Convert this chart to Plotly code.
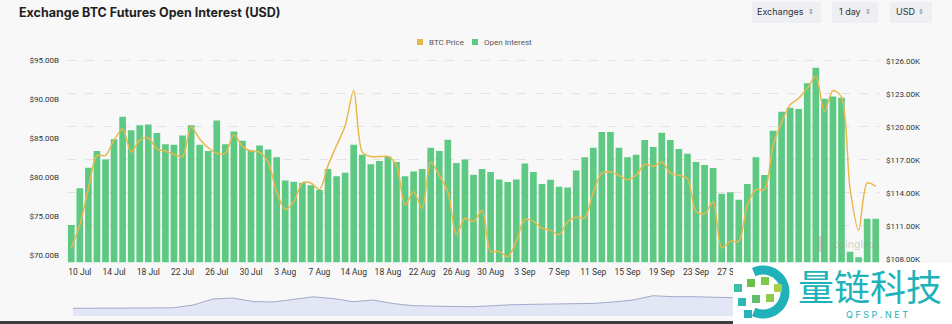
import numpy as np
import plotly.graph_objects as go

# ---------------- data ----------------
dates = (
    ["9 Jul", "10 Jul", "11 Jul", "12 Jul", "13 Jul", "14 Jul", "15 Jul", "16 Jul", "17 Jul", "18 Jul",
     "19 Jul", "20 Jul", "21 Jul", "22 Jul", "23 Jul", "24 Jul", "25 Jul", "26 Jul", "27 Jul", "28 Jul",
     "29 Jul", "30 Jul", "31 Jul", "1 Aug", "2 Aug", "3 Aug", "4 Aug", "5 Aug", "6 Aug", "7 Aug",
     "9 Aug", "11 Aug", "13 Aug",
     "14 Aug", "15 Aug", "16 Aug", "17 Aug", "18 Aug", "19 Aug", "20 Aug", "21 Aug", "22 Aug", "23 Aug",
     "24 Aug", "25 Aug", "26 Aug", "27 Aug", "28 Aug", "29 Aug", "30 Aug", "31 Aug", "1 Sep", "2 Sep",
     "3 Sep", "4 Sep", "5 Sep", "6 Sep", "7 Sep", "8 Sep", "9 Sep", "10 Sep", "11 Sep", "12 Sep",
     "13 Sep", "14 Sep", "15 Sep", "16 Sep", "17 Sep", "18 Sep", "19 Sep", "20 Sep", "21 Sep", "22 Sep",
     "23 Sep", "24 Sep", "25 Sep", "26 Sep", "27 Sep", "28 Sep", "29 Sep", "30 Sep", "1 Oct", "2 Oct",
     "3 Oct", "4 Oct", "5 Oct", "6 Oct", "7 Oct", "8 Oct", "9 Oct", "10 Oct", "11 Oct", "12 Oct",
     "13 Oct", "14 Oct"]
)

open_interest_b = [
    73.9, 78.6, 81.25, 83.4, 82.3, 84.9, 87.8, 86.05, 86.7, 86.8,
    85.7, 84.25, 84.2, 85.4, 86.7, 84.2, 83.4, 87.3, 84.25, 85.9,
    84.7, 83.5, 84.1, 83.6, 82.6, 79.6, 79.45, 79.3, 79.0, 78.4,
    81.1, 80.15, 80.6,
    84.2, 82.9, 81.7, 82.1, 82.7, 82.0, 80.15, 80.75, 81.1, 83.8,
    83.4, 84.85, 81.85, 82.3, 80.35, 81.1, 80.7, 79.75, 79.4, 79.75,
    81.8, 80.7, 79.15, 79.7, 78.8, 78.7, 80.9, 82.6, 83.8, 85.85,
    85.85, 83.8, 82.6, 82.9, 84.8, 83.9, 85.75, 84.8, 83.65, 83.05,
    82.0, 81.6, 81.2, 77.9, 78.1, 77.15, 79.15, 82.6, 80.3, 86.0,
    88.45, 88.95, 88.8, 92.1, 94.1, 90.1, 90.4, 90.25, 70.45, 69.75,
    74.7, 74.7,
]

btc_price_k = [
    109.0, 111.1, 114.4, 117.4, 117.4, 118.8, 119.8, 117.7, 118.8, 119.0,
    118.0, 117.8, 117.5, 117.3, 120.0, 118.9, 118.1, 117.6, 117.6, 119.3,
    118.2, 117.8, 117.7, 116.8, 114.1, 112.5, 113.2, 114.9, 114.9, 114.3,
    116.5, 118.3, 120.1,
    123.3, 117.7, 117.3, 117.3, 117.3, 116.5, 112.9, 114.1, 112.6, 116.8,
    115.6, 114.1, 110.2, 111.7, 111.4, 112.4, 108.7, 108.7, 108.2, 109.6,
    111.6, 111.4, 110.8, 110.6, 110.2, 111.4, 111.8, 111.7, 114.1, 115.8,
    115.9, 115.6, 115.2, 115.6, 116.6, 116.4, 116.8, 115.8, 115.6, 115.3,
    112.3, 112.1, 113.2, 109.0, 109.6, 109.6, 112.9, 114.3, 114.3, 118.3,
    120.4, 122.0, 122.6, 123.5, 124.6, 121.4, 123.3, 122.7, 114.4, 110.6,
    114.9, 114.6,
]

# visible date ticks (later ones sit under the logo overlay in the reference)
tick_dates = ["10 Jul", "14 Jul", "18 Jul", "22 Jul", "26 Jul", "30 Jul", "3 Aug", "7 Aug",
              "14 Aug", "18 Aug", "22 Aug", "26 Aug", "30 Aug", "3 Sep", "7 Sep", "11 Sep",
              "15 Sep", "19 Sep", "23 Sep", "27 Sep"]

oi_ticks = [70, 75, 80, 85, 90, 95]
oi_tick_text = ["$70.00B", "$75.00B", "$80.00B", "$85.00B", "$90.00B", "$95.00B"]
price_ticks = [108, 111, 114, 117, 120, 123, 126]
price_tick_text = ["$108.00K", "$111.00K", "$114.00K", "$117.00K", "$120.00K", "$123.00K", "$126.00K"]

# navigator (long-range overview) values
nav_values = [7.7, 7.8, 7.9, 8.0, 8.0, 8.2, 11.0, 17.0, 18.0, 14.5,
              14.0, 16.3, 19.2, 17.5, 14.3, 16.0, 12.5, 10.3, 9.7, 9.5,
              9.3, 10.5, 11.3, 11.7, 12.0, 12.3, 12.6, 14.0, 16.0, 20.3,
              19.3, 19.3, 19.0, 18.3, 19.0, 20.0, 21.0, 22.0, 20.0, 18.0, 19.0]

# ---------------- layout helpers ----------------
W, H = 952, 324
ML, MR, MT, MB = 67, 72, 55, 8
PW = W - ML - MR
PH = H - MT - MB


def px(x):
    return (x - ML) / PW


def py(y):
    return (H - MB - y) / PH


BG = "#f8f8f9"
GREEN = "#5dc983"
ORANGE = "#e9b84c"
TEAL = "#20b2b8"
FONT = "Roboto"

fig = go.Figure()

fig.add_trace(go.Bar(
    x=dates, y=open_interest_b, name="Open Interest",
    marker=dict(color=GREEN, line=dict(width=0)),
    yaxis="y", xaxis="x", showlegend=False,
))
fig.add_trace(go.Scatter(
    x=dates, y=btc_price_k, name="BTC Price", mode="lines",
    line=dict(color=ORANGE, width=1.5, shape="spline", smoothing=0.8),
    yaxis="y2", xaxis="x", showlegend=False,
))
fig.add_trace(go.Scatter(
    x=list(range(len(nav_values))), y=nav_values, mode="lines",
    line=dict(color="#9aa3c6", width=0.9), fill="tozeroy", fillcolor="#e2e6f5",
    xaxis="x2", yaxis="y3", showlegend=False, hoverinfo="skip",
))

main_bottom = py(262.3)

fig.update_layout(
    width=W, height=H,
    margin=dict(l=ML, r=MR, t=MT, b=MB, pad=0),
    paper_bgcolor=BG, plot_bgcolor=BG,
    bargap=0.22,
    font=dict(family=FONT, size=8.5, color="#333"),
    xaxis=dict(type="category", domain=[0, 1], anchor="y",
               range=[-0.5, len(dates) - 0.5],
               tickmode="array", tickvals=tick_dates, ticktext=tick_dates,
               tickangle=0, showgrid=False, showline=False, zeroline=False,
               ticks="", ticklabelstandoff=3,
               tickfont=dict(family=FONT, size=8.5, color="#333")),
    yaxis=dict(domain=[main_bottom, 1], range=[69.1, 95.73],
               tickmode="array", tickvals=oi_ticks, ticktext=oi_tick_text,
               showgrid=False, zeroline=False, showline=False, ticks="",
               ticklabelstandoff=7,
               tickfont=dict(family=FONT, size=8, color="#333")),
    yaxis2=dict(overlaying="y", side="right", range=[107.70, 126.52],
                tickmode="array", tickvals=price_ticks, ticktext=price_tick_text,
                showgrid=True, gridcolor="#e2e2e2", griddash="dash", gridwidth=0.8,
                zeroline=False, showline=False, ticks="", ticklabelstandoff=5,
                tickfont=dict(family=FONT, size=8, color="#333")),
    xaxis2=dict(domain=[px(73), px(873)], anchor="y3", range=[0, len(nav_values) - 1],
                visible=False),
    yaxis3=dict(domain=[0, py(289)], range=[0, 27], visible=False),
)

shapes = []
annotations = []

# title
annotations.append(dict(text="<b>Exchange BTC Futures Open Interest (USD)</b>", xref="paper", yref="paper",
                        x=px(17), y=py(13), xanchor="left", yanchor="middle", showarrow=False,
                        font=dict(family="Inter", size=12.5, color="#1f1f1f")))

# top-right selector buttons
for x0, x1, label, tx, cx in [(752, 821, "Exchanges", 780, 811), (832, 878, "1 day", 850, 868),
                             (890, 932, "USD", 905, 921)]:
    shapes.append(dict(type="rect", xref="paper", yref="paper", x0=px(x0), x1=px(x1),
                       y0=py(23), y1=py(2), fillcolor="#edeff3", line=dict(width=0), layer="below"))
    annotations.append(dict(text=label, xref="paper", yref="paper", x=px(tx), y=py(12),
                            xanchor="center", yanchor="middle", showarrow=False,
                            font=dict(family="Inter", size=9, color="#333")))
    annotations.append(dict(text="⇕", xref="paper", yref="paper", x=px(cx), y=py(12),
                            xanchor="center", yanchor="middle", showarrow=False,
                            font=dict(family="DejaVu Sans", size=7, color="#888")))

# legend (custom)
shapes.append(dict(type="rect", xref="paper", yref="paper", x0=px(417), x1=px(423),
                   y0=py(45), y1=py(39), fillcolor=ORANGE, line=dict(width=0)))
annotations.append(dict(text="BTC Price", xref="paper", yref="paper", x=px(427), y=py(42),
                        xanchor="left", yanchor="middle", showarrow=False,
                        font=dict(family=FONT, size=8, color="#555")))
shapes.append(dict(type="rect", xref="paper", yref="paper", x0=px(472), x1=px(478),
                   y0=py(45), y1=py(39), fillcolor=GREEN, line=dict(width=0)))
annotations.append(dict(text="Open Interest", xref="paper", yref="paper", x=px(482), y=py(42),
                        xanchor="left", yanchor="middle", showarrow=False,
                        font=dict(family=FONT, size=8, color="#555")))

# coinglass watermark
shapes.append(dict(type="rect", xref="paper", yref="paper", x0=px(817), x1=px(823),
                   y0=py(252), y1=py(236), fillcolor="rgba(150,150,150,0.35)", line=dict(width=0),
                   layer="above"))
annotations.append(dict(text="coinglass", xref="paper", yref="paper", x=px(831), y=py(245),
                        xanchor="left", yanchor="middle", showarrow=False,
                        font=dict(family="Inter", size=10.5, color="rgba(150,150,150,0.45)")))

# dark bottom border
shapes.append(dict(type="rect", xref="paper", yref="paper", x0=px(0), x1=px(735),
                   y0=py(324), y1=py(321), fillcolor="#3c3c3c", line=dict(width=0), layer="above"))

# QFSP logo overlay (white box, arc, squares, text)
shapes.append(dict(type="rect", xref="paper", yref="paper", x0=px(733), x1=px(952),
                   y0=py(324), y1=py(263), fillcolor="#ffffff", line=dict(width=0), layer="above"))
ang = np.linspace(np.deg2rad(115), np.deg2rad(-115), 40)
cxp, cyp, r = 763, 292, 22
pts = [(cxp + r * np.cos(a), cyp - r * np.sin(a)) for a in ang]
path = "M " + " L ".join(f"{px(x):.5f},{py(y):.5f}" for x, y in pts)
shapes.append(dict(type="path", xref="paper", yref="paper", path=path,
                   line=dict(color=TEAL, width=9), layer="above"))
for sx, sy, col in [(738, 288, "#3cbfa8"), (751, 283, "#6cc04a"), (765, 281, "#7ec84a"),
                    (778, 288, "#a6d14a"), (742, 302, "#2fb8b0"), (756, 299, "#5fbf6a"),
                    (770, 298, "#8fcc4a"), (748, 314, "#25b3b8")]:
    shapes.append(dict(type="rect", xref="paper", yref="paper", x0=px(sx - 4), x1=px(sx + 4),
                       y0=py(sy + 4), y1=py(sy - 4), fillcolor=col, line=dict(width=0), layer="above"))
annotations.append(dict(text="量链科技", xref="paper", yref="paper", x=px(870), y=py(285),
                        xanchor="center", yanchor="middle", showarrow=False, borderpad=0,
                        font=dict(family="Noto Sans CJK SC", size=36, color=TEAL)))
annotations.append(dict(text="Q F S P . N E T", xref="paper", yref="paper", x=px(877), y=py(314),
                        xanchor="center", yanchor="middle", showarrow=False, borderpad=0,
                        font=dict(family="Inter", size=9, color=TEAL)))

fig.update_layout(shapes=shapes, annotations=annotations)

fig.write_html("out.html")
